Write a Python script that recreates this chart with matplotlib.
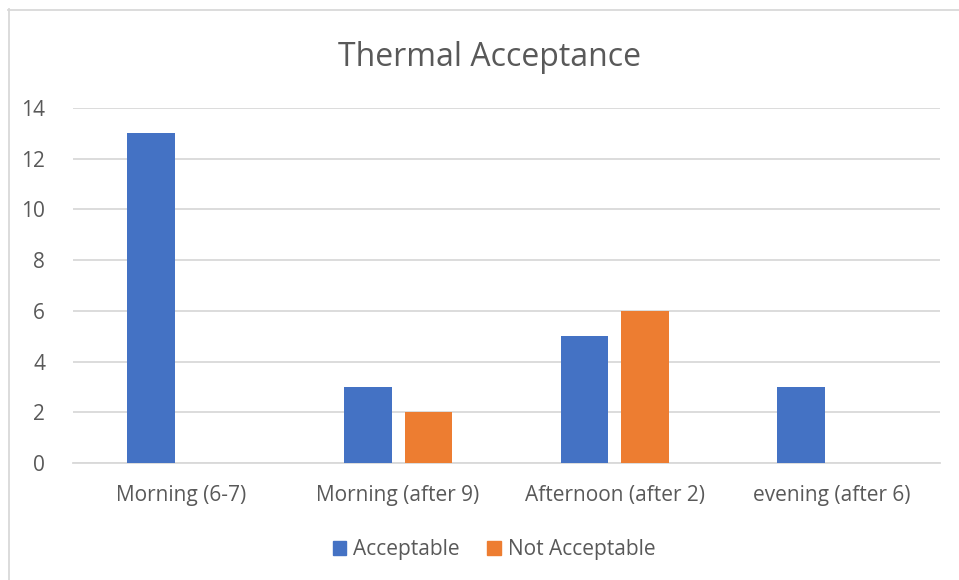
import numpy as np
import matplotlib.pyplot as plt
from matplotlib.lines import Line2D
from matplotlib.patches import Patch

categories = ['Morning (6-7)', 'Morning (after 9)', 'Afternoon (after 2)', 'evening (after 6)']
acceptable = [13, 3, 5, 3]
not_acceptable = [0, 2, 6, 0]
series_names = ['Acceptable', 'Not Acceptable']

blue = '#4472C4'
orange = '#ED7D31'
text_col = '#595959'
grid_col = '#D9D9D9'

plt.rcParams['font.family'] = ['Open Sans', 'DejaVu Sans']

fig = plt.figure(figsize=(9.59, 5.8), dpi=100)
ax = fig.add_axes([73 / 959, 1 - 463 / 580, (940 - 73) / 959, (463 - 108) / 580])

x = np.arange(len(categories))
width = 0.22
offset = 0.14
ax.bar(x - offset, acceptable, width, color=blue, zorder=3)
ax.bar(x + offset, not_acceptable, width, color=orange, zorder=3)

ax.set_xlim(-0.5, len(categories) - 0.5)
ax.set_ylim(0, 14)
ax.set_yticks(range(0, 15, 2))
ax.set_xticks(x)
ax.set_xticklabels(categories)
ax.yaxis.grid(True, color=grid_col, linewidth=1.3)
ax.set_axisbelow(True)
for s in ['top', 'right', 'left']:
    ax.spines[s].set_visible(False)
ax.spines['bottom'].set_color(grid_col)
ax.spines['bottom'].set_linewidth(1.3)
ax.tick_params(axis='both', length=0, labelsize=15, colors=text_col)
ax.tick_params(axis='y', pad=20)
ax.tick_params(axis='x', pad=16)

fig.text(489 / 959, 1 - 57 / 580, 'Thermal Acceptance', ha='center', va='center',
         fontsize=23, color=text_col)

handles = [Patch(color=blue), Patch(color=orange)]
fig.legend(handles, series_names, loc='center', bbox_to_anchor=(494 / 959, 1 - 550 / 580),
           ncol=2, frameon=False, fontsize=15, labelcolor=text_col,
           handlelength=0.65, handleheight=0.65, handletextpad=0.35, columnspacing=1.3)

# chart area border (left and top edges)
fig.add_artist(Line2D([8.5 / 959, 8.5 / 959], [0, 1 - 9 / 580], transform=fig.transFigure,
                      color=grid_col, linewidth=1.3))
fig.add_artist(Line2D([8 / 959, 1], [1 - 9.5 / 580, 1 - 9.5 / 580], transform=fig.transFigure,
                      color=grid_col, linewidth=1.3))

fig.savefig('out.png', dpi=100)
